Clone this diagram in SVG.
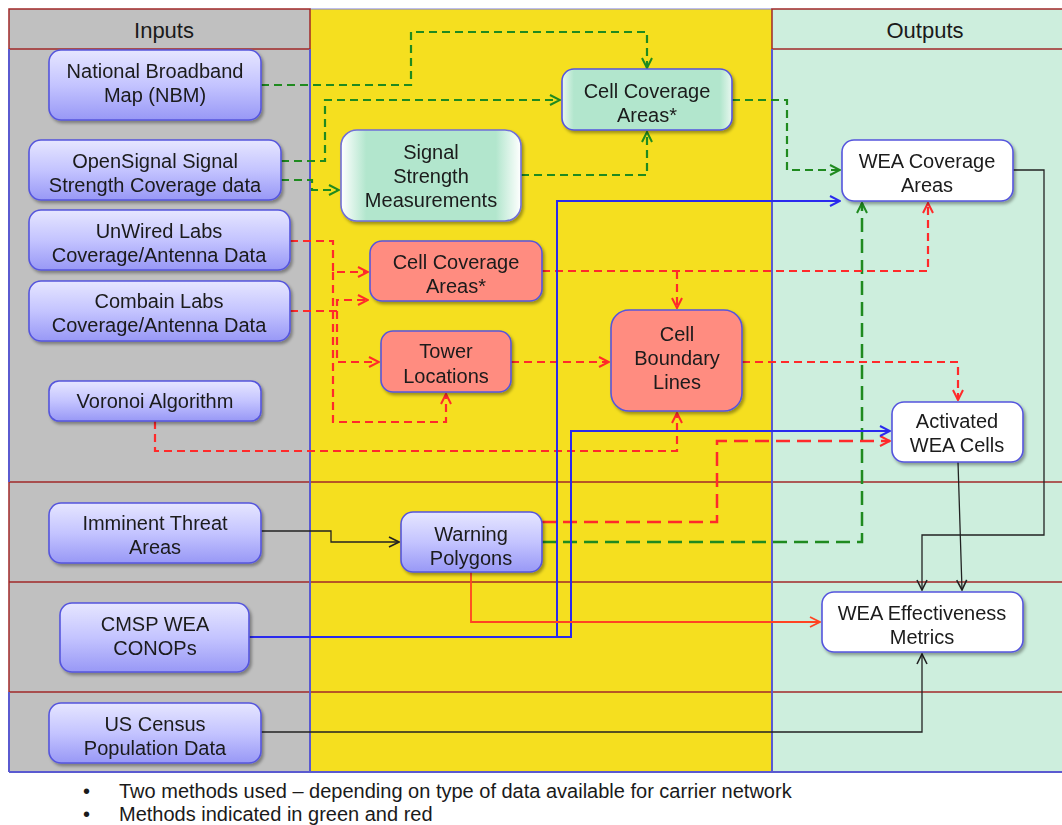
<svg xmlns="http://www.w3.org/2000/svg" width="1062" height="825" viewBox="0 0 1062 825">
<style>
.txt{font-family:"Liberation Sans",Arial,sans-serif;font-size:20px;fill:#1a1a1a;text-anchor:middle}
.hdr{font-family:"Liberation Sans",Arial,sans-serif;font-size:22px;fill:#1a1a1a;text-anchor:middle}
.note{font-family:"Liberation Sans",Arial,sans-serif;font-size:20px;fill:#1a1a1a}
.inp{fill:url(#gInp);stroke:#5555dd;stroke-width:1.6}
.grn{fill:url(#gGrn);stroke:#5555dd;stroke-width:1.6}
.grn2{fill:url(#gGrn2);stroke:#6f6fd8;stroke-width:1.6}
.red{fill:#ff8c80;stroke:#5555dd;stroke-width:1.6}
.out{fill:#ffffff;stroke:#5555dd;stroke-width:1.6}
.sh{filter:url(#shadow)}
.row{stroke:#a02828;stroke-width:1.5;fill:none}
.col{stroke:#5a5ad0;stroke-width:2;fill:none}
.c{fill:none}
.gd{stroke:#1f8a1f;stroke-width:2.2;stroke-dasharray:8,5}
.gdl{stroke:#1f8a1f;stroke-width:2.5;stroke-dasharray:14,7}
.rd{stroke:#ff2a2a;stroke-width:2.2;stroke-dasharray:8,5}
.rdl{stroke:#ff2a2a;stroke-width:2.5;stroke-dasharray:14,7}
.bl{stroke:#2a2aee;stroke-width:2}
.bk{stroke:#222222;stroke-width:1.3}
.or{stroke:#ff4422;stroke-width:1.8}
</style>
<defs>
<linearGradient id="gInp" x1="0" y1="0" x2="0" y2="1">
<stop offset="0" stop-color="#e6e6ff"/>
<stop offset="0.5" stop-color="#c4c4ff"/>
<stop offset="1" stop-color="#9898f6"/>
</linearGradient>
<linearGradient id="gGrn" x1="0" y1="0" x2="1" y2="0">
<stop offset="0" stop-color="#e8f7ef"/>
<stop offset="0.07" stop-color="#b2e6cd"/>
<stop offset="0.93" stop-color="#b2e6cd"/>
<stop offset="1" stop-color="#e8f7ef"/>
</linearGradient>
<linearGradient id="gGrn2" x1="0" y1="0" x2="1" y2="0">
<stop offset="0" stop-color="#ffffff"/>
<stop offset="0.14" stop-color="#b2e6cd"/>
<stop offset="0.86" stop-color="#b2e6cd"/>
<stop offset="1" stop-color="#ffffff"/>
</linearGradient>
<filter id="shadow" x="-10%" y="-10%" width="130%" height="140%">
<feDropShadow dx="2" dy="2.5" stdDeviation="1.5" flood-color="#000" flood-opacity="0.35"/>
</filter>
<marker id="aG" viewBox="0 0 12 12" refX="11" refY="6" markerWidth="12" markerHeight="12" markerUnits="userSpaceOnUse" orient="auto"><path d="M1,1 L11,6 L1,11" fill="none" stroke="#1f8a1f" stroke-width="2"/></marker>
<marker id="aR" viewBox="0 0 12 12" refX="11" refY="6" markerWidth="12" markerHeight="12" markerUnits="userSpaceOnUse" orient="auto"><path d="M1,1 L11,6 L1,11" fill="none" stroke="#ff2a2a" stroke-width="2"/></marker>
<marker id="aB" viewBox="0 0 12 12" refX="11" refY="6" markerWidth="12" markerHeight="12" markerUnits="userSpaceOnUse" orient="auto"><path d="M1,1 L11,6 L1,11" fill="none" stroke="#2a2aee" stroke-width="2"/></marker>
<marker id="aK" viewBox="0 0 12 12" refX="11" refY="6" markerWidth="12" markerHeight="12" markerUnits="userSpaceOnUse" orient="auto"><path d="M1,1 L11,6 L1,11" fill="none" stroke="#222222" stroke-width="1.6"/></marker>
<marker id="aO" viewBox="0 0 12 12" refX="11" refY="6" markerWidth="12" markerHeight="12" markerUnits="userSpaceOnUse" orient="auto"><path d="M1,1 L11,6 L1,11" fill="none" stroke="#ff4422" stroke-width="1.8"/></marker>
</defs>
<rect width="1062" height="825" fill="#ffffff"/>
<g id="swimlanes">
<rect x="9" y="9" width="301" height="763" fill="#c0c0c0"/>
<rect x="310" y="9" width="462" height="763" fill="#f5df1f"/>
<rect x="772" y="9" width="292" height="763" fill="#cdeedd"/>
<line x1="310" y1="9" x2="772" y2="9" stroke="#8080d8" stroke-width="1.2"/>
<rect x="9" y="9" width="301" height="40" class="row"/>
<rect x="772" y="9" width="292" height="40" class="row"/>
<line x1="9" y1="482" x2="1062" y2="482" class="row"/>
<line x1="9" y1="582" x2="1062" y2="582" class="row"/>
<line x1="9" y1="692" x2="1062" y2="692" class="row"/>
<line x1="9" y1="49" x2="9" y2="482" class="col"/>
<line x1="9" y1="482" x2="9" y2="692" class="row"/>
<line x1="9" y1="692" x2="9" y2="772" class="col"/>
<line x1="310" y1="49" x2="310" y2="772" class="col"/>
<line x1="772" y1="49" x2="772" y2="772" class="col"/>
<line x1="9" y1="772" x2="1062" y2="772" class="col"/>
<text x="164" y="38" class="hdr">Inputs</text>
<text x="925" y="38" class="hdr">Outputs</text>
</g>
<g id="connectors" fill="none">
<path class="c gd" d="M261,85 H411 V32 H647 V68" marker-end="url(#aG)"/>
<path class="c gd" d="M281,161 H325 V100 H560" marker-end="url(#aG)"/>
<path class="c gd" d="M281,180 H312 V190 H339" marker-end="url(#aG)"/>
<path class="c gd" d="M521,175 H647 V132" marker-end="url(#aG)"/>
<path class="c gd" d="M732,100 H787 V170 H840" marker-end="url(#aG)"/>
<path class="c gdl" d="M542,542 H862 V203" marker-end="url(#aG)"/>
<path class="c rd" d="M290,241 H333 V272 H368" marker-end="url(#aR)"/>
<path class="c rd" d="M333,272 V422 H446 V394" marker-end="url(#aR)"/>
<path class="c rd" d="M290,311 H337 V300 H368" marker-end="url(#aR)"/>
<path class="c rd" d="M337,311 V362 H379" marker-end="url(#aR)"/>
<path class="c rd" d="M542,271 H928 V203" marker-end="url(#aR)"/>
<path class="c rd" d="M677,271 V308" marker-end="url(#aR)"/>
<path class="c rd" d="M511,362 H609" marker-end="url(#aR)"/>
<path class="c rd" d="M742,362 H958 V400" marker-end="url(#aR)"/>
<path class="c rd" d="M155,421 V451 H677 V413" marker-end="url(#aR)"/>
<path class="c rdl" d="M542,522 H717 V441 H890" marker-end="url(#aR)"/>
<path class="c bl" d="M249,637 H571 V431 H890" marker-end="url(#aB)"/>
<path class="c bl" d="M557,637 V201 H840" marker-end="url(#aB)"/>
<path class="c bk" d="M261,531 H331 V542 H399" marker-end="url(#aK)"/>
<path class="c bk" d="M1013,170 H1044 V535 H922 V590" marker-end="url(#aK)"/>
<path class="c bk" d="M958,462 L962,590" marker-end="url(#aK)"/>
<path class="c bk" d="M261,732 H922 V654" marker-end="url(#aK)"/>
<path class="c or" d="M471,572 V622 H820" marker-end="url(#aO)"/>
</g>
<g id="n-nbm" class="sh"><rect x="49" y="50" width="212" height="70" rx="12" class="inp"/><text class="txt" x="155" y="78">National Broadband</text><text class="txt" x="155" y="102">Map (NBM)</text></g>
<g id="n-opensignal" class="sh"><rect x="29" y="140" width="252" height="60" rx="12" class="inp"/><text class="txt" x="155" y="168">OpenSignal Signal</text><text class="txt" x="155" y="192">Strength Coverage data</text></g>
<g id="n-unwired" class="sh"><rect x="29" y="210" width="261" height="60" rx="12" class="inp"/><text class="txt" x="159" y="238">UnWired Labs</text><text class="txt" x="159" y="262">Coverage/Antenna Data</text></g>
<g id="n-combain" class="sh"><rect x="29" y="281" width="261" height="60" rx="12" class="inp"/><text class="txt" x="159" y="308">Combain Labs</text><text class="txt" x="159" y="332">Coverage/Antenna Data</text></g>
<g id="n-voronoi" class="sh"><rect x="49" y="381" width="212" height="40" rx="10" class="inp"/><text class="txt" x="155" y="408">Voronoi Algorithm</text></g>
<g id="n-imminent" class="sh"><rect x="49" y="503" width="212" height="60" rx="12" class="inp"/><text class="txt" x="155" y="530">Imminent Threat</text><text class="txt" x="155" y="554">Areas</text></g>
<g id="n-cmsp" class="sh"><rect x="60" y="603" width="189" height="69" rx="12" class="inp"/><text class="txt" x="155" y="631">CMSP WEA</text><text class="txt" x="155" y="655">CONOPs</text></g>
<g id="n-census" class="sh"><rect x="49" y="703" width="212" height="60" rx="12" class="inp"/><text class="txt" x="155" y="731">US Census</text><text class="txt" x="155" y="755">Population Data</text></g>
<g id="n-warning" class="sh"><rect x="401" y="512" width="141" height="60" rx="12" class="inp"/><text class="txt" x="471" y="541">Warning</text><text class="txt" x="471" y="565">Polygons</text></g>
<g id="n-signal" class="sh"><rect x="341" y="130" width="180" height="91" rx="16" class="grn2"/><text class="txt" x="431" y="159">Signal</text><text class="txt" x="431" y="183">Strength</text><text class="txt" x="431" y="207">Measurements</text></g>
<g id="n-cellcov-g" class="sh"><rect x="562" y="69" width="170" height="61" rx="12" class="grn"/><text class="txt" x="647" y="98">Cell Coverage</text><text class="txt" x="647" y="122">Areas*</text></g>
<g id="n-cellcov-r" class="sh"><rect x="370" y="241" width="172" height="60" rx="12" class="red"/><text class="txt" x="456" y="269">Cell Coverage</text><text class="txt" x="456" y="293">Areas*</text></g>
<g id="n-tower" class="sh"><rect x="381" y="331" width="130" height="61" rx="12" class="red"/><text class="txt" x="446" y="358">Tower</text><text class="txt" x="446" y="383">Locations</text></g>
<g id="n-boundary" class="sh"><rect x="611" y="310" width="131" height="101" rx="18" class="red"/><text class="txt" x="677" y="341">Cell</text><text class="txt" x="677" y="365">Boundary</text><text class="txt" x="677" y="389">Lines</text></g>
<g id="n-weacov" class="sh"><rect x="842" y="140" width="171" height="61" rx="12" class="out"/><text class="txt" x="927" y="168">WEA Coverage</text><text class="txt" x="927" y="192">Areas</text></g>
<g id="n-activated" class="sh"><rect x="892" y="402" width="131" height="60" rx="12" class="out"/><text class="txt" x="957" y="428">Activated</text><text class="txt" x="957" y="452">WEA Cells</text></g>
<g id="n-metrics" class="sh"><rect x="822" y="592" width="201" height="60" rx="12" class="out"/><text class="txt" x="922" y="620">WEA Effectiveness</text><text class="txt" x="922" y="644">Metrics</text></g>
<g id="notes">
<text class="note" x="83" y="798">•</text>
<text class="note" x="119" y="798">Two methods used – depending on type of data available for carrier network</text>
<text class="note" x="83" y="821">•</text>
<text class="note" x="119" y="821">Methods indicated in green and red</text>
</g>
</svg>
